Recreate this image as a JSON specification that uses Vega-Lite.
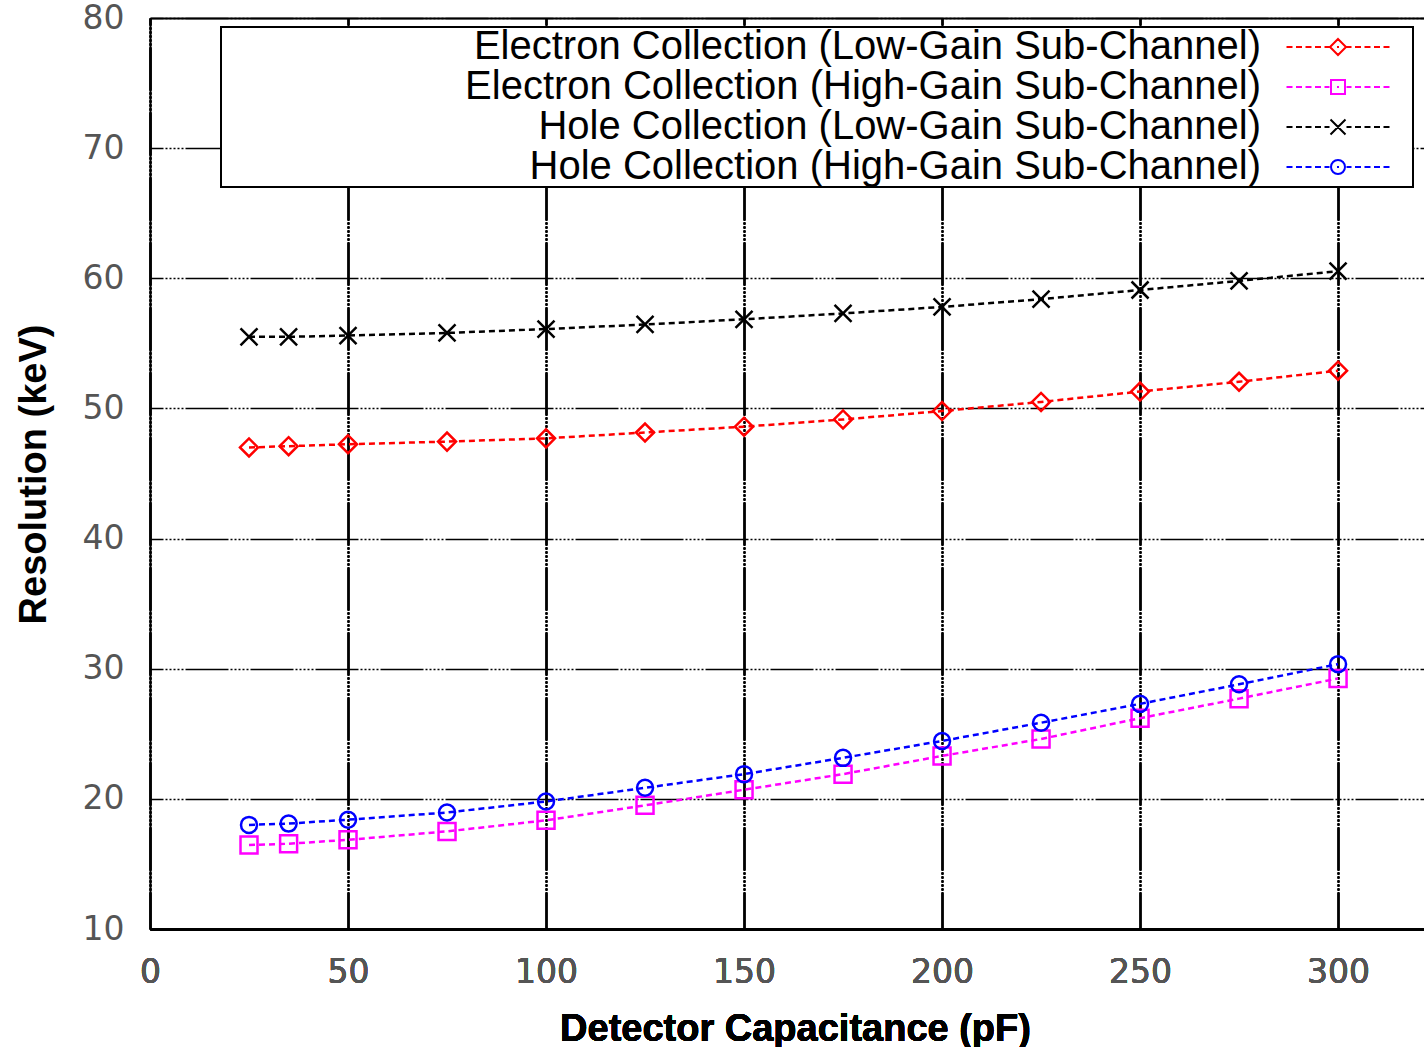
{
  "$schema": "https://vega.github.io/schema/vega-lite/v6.json",
  "width": 1274,
  "height": 911,
  "autosize": {"type": "none"},
  "padding": {"left": 150, "top": 18, "right": 0, "bottom": 118},
  "background": "white",
  "config": {"view": {"stroke": null}, "legend": {"strokeWidth": 2}},
  "data": {
    "values": [
      {"series": "Electron Collection (Low-Gain Sub-Channel)", "c": 25, "r": 47.0},
      {"series": "Electron Collection (Low-Gain Sub-Channel)", "c": 35, "r": 47.1},
      {"series": "Electron Collection (Low-Gain Sub-Channel)", "c": 50, "r": 47.25},
      {"series": "Electron Collection (Low-Gain Sub-Channel)", "c": 75, "r": 47.45},
      {"series": "Electron Collection (Low-Gain Sub-Channel)", "c": 100, "r": 47.7},
      {"series": "Electron Collection (Low-Gain Sub-Channel)", "c": 125, "r": 48.15},
      {"series": "Electron Collection (Low-Gain Sub-Channel)", "c": 150, "r": 48.6},
      {"series": "Electron Collection (Low-Gain Sub-Channel)", "c": 175, "r": 49.15},
      {"series": "Electron Collection (Low-Gain Sub-Channel)", "c": 200, "r": 49.8},
      {"series": "Electron Collection (Low-Gain Sub-Channel)", "c": 225, "r": 50.5},
      {"series": "Electron Collection (Low-Gain Sub-Channel)", "c": 250, "r": 51.3},
      {"series": "Electron Collection (Low-Gain Sub-Channel)", "c": 275, "r": 52.05},
      {"series": "Electron Collection (Low-Gain Sub-Channel)", "c": 300, "r": 52.9},
      {"series": "Electron Collection (High-Gain Sub-Channel)", "c": 25, "r": 16.45},
      {"series": "Electron Collection (High-Gain Sub-Channel)", "c": 35, "r": 16.55},
      {"series": "Electron Collection (High-Gain Sub-Channel)", "c": 50, "r": 16.85},
      {"series": "Electron Collection (High-Gain Sub-Channel)", "c": 75, "r": 17.5},
      {"series": "Electron Collection (High-Gain Sub-Channel)", "c": 100, "r": 18.35},
      {"series": "Electron Collection (High-Gain Sub-Channel)", "c": 125, "r": 19.5},
      {"series": "Electron Collection (High-Gain Sub-Channel)", "c": 150, "r": 20.7},
      {"series": "Electron Collection (High-Gain Sub-Channel)", "c": 175, "r": 21.9},
      {"series": "Electron Collection (High-Gain Sub-Channel)", "c": 200, "r": 23.3},
      {"series": "Electron Collection (High-Gain Sub-Channel)", "c": 225, "r": 24.6},
      {"series": "Electron Collection (High-Gain Sub-Channel)", "c": 250, "r": 26.2},
      {"series": "Electron Collection (High-Gain Sub-Channel)", "c": 275, "r": 27.7},
      {"series": "Electron Collection (High-Gain Sub-Channel)", "c": 300, "r": 29.25},
      {"series": "Hole Collection (Low-Gain Sub-Channel)", "c": 25, "r": 55.5},
      {"series": "Hole Collection (Low-Gain Sub-Channel)", "c": 35, "r": 55.5},
      {"series": "Hole Collection (Low-Gain Sub-Channel)", "c": 50, "r": 55.6},
      {"series": "Hole Collection (Low-Gain Sub-Channel)", "c": 75, "r": 55.8},
      {"series": "Hole Collection (Low-Gain Sub-Channel)", "c": 100, "r": 56.1},
      {"series": "Hole Collection (Low-Gain Sub-Channel)", "c": 125, "r": 56.45},
      {"series": "Hole Collection (Low-Gain Sub-Channel)", "c": 150, "r": 56.85},
      {"series": "Hole Collection (Low-Gain Sub-Channel)", "c": 175, "r": 57.3},
      {"series": "Hole Collection (Low-Gain Sub-Channel)", "c": 200, "r": 57.8},
      {"series": "Hole Collection (Low-Gain Sub-Channel)", "c": 225, "r": 58.4},
      {"series": "Hole Collection (Low-Gain Sub-Channel)", "c": 250, "r": 59.1},
      {"series": "Hole Collection (Low-Gain Sub-Channel)", "c": 275, "r": 59.8},
      {"series": "Hole Collection (Low-Gain Sub-Channel)", "c": 300, "r": 60.55},
      {"series": "Hole Collection (High-Gain Sub-Channel)", "c": 25, "r": 18.0},
      {"series": "Hole Collection (High-Gain Sub-Channel)", "c": 35, "r": 18.1},
      {"series": "Hole Collection (High-Gain Sub-Channel)", "c": 50, "r": 18.4},
      {"series": "Hole Collection (High-Gain Sub-Channel)", "c": 75, "r": 18.95},
      {"series": "Hole Collection (High-Gain Sub-Channel)", "c": 100, "r": 19.8},
      {"series": "Hole Collection (High-Gain Sub-Channel)", "c": 125, "r": 20.85},
      {"series": "Hole Collection (High-Gain Sub-Channel)", "c": 150, "r": 21.9},
      {"series": "Hole Collection (High-Gain Sub-Channel)", "c": 175, "r": 23.15},
      {"series": "Hole Collection (High-Gain Sub-Channel)", "c": 200, "r": 24.45},
      {"series": "Hole Collection (High-Gain Sub-Channel)", "c": 225, "r": 25.85},
      {"series": "Hole Collection (High-Gain Sub-Channel)", "c": 250, "r": 27.3},
      {"series": "Hole Collection (High-Gain Sub-Channel)", "c": 275, "r": 28.8},
      {"series": "Hole Collection (High-Gain Sub-Channel)", "c": 300, "r": 30.35}
    ]
  },
  "encoding": {
    "x": {
      "field": "c",
      "type": "quantitative",
      "scale": {"domain": [0, 321.7], "nice": false, "zero": false},
      "axis": {
        "orient": "bottom",
        "values": [0, 50, 100, 150, 200, 250, 300],
        "grid": true,
        "gridColor": "black",
        "gridWidth": 1.5,
        "gridOpacity": 1,
        "gridDash": [43, 2, 2, 2, 2, 2, 2, 2, 2, 2, 2, 2],
        "gridDashOffset": 36,
        "ticks": false,
        "domain": true,
        "domainColor": "black",
        "domainWidth": 2,
        "labelFont": "DejaVu Sans",
        "labelFontSize": 33,
        "labelColor": "#555555",
        "labelPadding": 27,
        "labelFlush": false,
        "labelOverlap": false,
        "labelBound": false,
        "title": "Detector Capacitance (pF)",
        "titleFont": "Liberation Sans",
        "titleFontSize": 38,
        "titleFontWeight": "bold",
        "titleColor": "black",
        "titleX": 645,
        "titleY": 111,
        "titleAlign": "center",
        "titleBaseline": "alphabetic"
      }
    },
    "y": {
      "field": "r",
      "type": "quantitative",
      "scale": {"domain": [10, 80], "nice": false, "zero": false},
      "axis": {
        "values": [10, 20, 30, 40, 50, 60, 70, 80],
        "grid": true,
        "gridColor": "black",
        "gridWidth": 1.5,
        "gridOpacity": 1,
        "gridDash": [43, 2, 2, 2, 2, 2, 2, 2, 2, 2, 2, 2],
        "gridDashOffset": 30,
        "ticks": false,
        "domain": true,
        "domainColor": "black",
        "domainWidth": 2,
        "labelFont": "DejaVu Sans",
        "labelFontSize": 33,
        "labelColor": "#555555",
        "labelPadding": 26,
        "labelFlush": false,
        "labelOverlap": false,
        "labelBound": false,
        "title": "Resolution (keV)",
        "titleFont": "Liberation Sans",
        "titleFontSize": 38,
        "titleFontWeight": "bold",
        "titleColor": "black",
        "titleX": -105,
        "titleY": 456,
        "titleAngle": -90,
        "titleAlign": "center",
        "titleBaseline": "alphabetic"
      }
    }
  },
  "layer": [
    {
      "transform": [{"filter": {"field": "series", "equal": "Electron Collection (Low-Gain Sub-Channel)"}}],
      "mark": {"type": "line", "strokeWidth": 2.5, "strokeDash": [6, 4], "color": "#ff0000"}
    },
    {
      "transform": [{"filter": {"field": "series", "equal": "Electron Collection (High-Gain Sub-Channel)"}}],
      "mark": {"type": "line", "strokeWidth": 2.5, "strokeDash": [6, 4], "color": "#ff00ff"}
    },
    {
      "transform": [{"filter": {"field": "series", "equal": "Hole Collection (Low-Gain Sub-Channel)"}}],
      "mark": {"type": "line", "strokeWidth": 2.5, "strokeDash": [6, 4], "color": "#000000"}
    },
    {
      "transform": [{"filter": {"field": "series", "equal": "Hole Collection (High-Gain Sub-Channel)"}}],
      "mark": {"type": "line", "strokeWidth": 2.5, "strokeDash": [6, 4], "color": "#0000ff"}
    },
    {
      "transform": [{"filter": {"field": "series", "equal": "Electron Collection (Low-Gain Sub-Channel)"}}],
      "mark": {"type": "point", "shape": "diamond", "size": 324, "strokeWidth": 2.5, "color": "#ff0000", "filled": false, "opacity": 1}
    },
    {
      "transform": [{"filter": {"field": "series", "equal": "Electron Collection (High-Gain Sub-Channel)"}}],
      "mark": {"type": "point", "shape": "square", "size": 289, "strokeWidth": 2.5, "color": "#ff00ff", "filled": false, "opacity": 1}
    },
    {
      "transform": [{"filter": {"field": "series", "equal": "Hole Collection (Low-Gain Sub-Channel)"}}],
      "mark": {"type": "point", "shape": "M-1,-1L1,1M-1,1L1,-1", "size": 289, "strokeWidth": 2.5, "color": "#000000", "filled": false, "opacity": 1}
    },
    {
      "transform": [{"filter": {"field": "series", "equal": "Hole Collection (High-Gain Sub-Channel)"}}],
      "mark": {"type": "point", "shape": "circle", "size": 256, "strokeWidth": 2.5, "color": "#0000ff", "filled": false, "opacity": 1}
    },
    {
      "mark": {"type": "point", "filled": false, "opacity": 0},
      "encoding": {
        "x": {
          "field": "c",
          "type": "quantitative",
          "axis": {"orient": "top", "labels": false, "ticks": false, "grid": false, "title": null, "domain": true, "domainColor": "black", "domainWidth": 2}
        },
        "color": {
          "field": "series",
          "type": "nominal",
          "scale": {
            "domain": ["Electron Collection (Low-Gain Sub-Channel)", "Electron Collection (High-Gain Sub-Channel)", "Hole Collection (Low-Gain Sub-Channel)", "Hole Collection (High-Gain Sub-Channel)"],
            "range": ["#ff0000", "#ff00ff", "#000000", "#0000ff"]
          },
          "legend": {
            "orient": "none", "legendX": 71, "legendY": 9,
            "title": " ", "titleOrient": "left", "titleFontSize": 1, "titlePadding": 1040,
            "padding": 0, "rowPadding": 0,
            "symbolSize": 400, "symbolStrokeWidth": 2, "symbolOffset": 57,
            "labelOffset": -97, "labelAlign": "right", "labelFont": "Liberation Sans", "labelFontSize": 40, "labelColor": "black", "labelLimit": 2000,
            "strokeColor": "black", "fillColor": "white"
          }
        },
        "shape": {
          "field": "series",
          "type": "nominal",
          "scale": {
            "domain": ["Electron Collection (Low-Gain Sub-Channel)", "Electron Collection (High-Gain Sub-Channel)", "Hole Collection (Low-Gain Sub-Channel)", "Hole Collection (High-Gain Sub-Channel)"],
            "range": [
              "M-5.15,0H-4.55M-4.2,0H-3.6M-3.25,0H-2.65M-2.3,0H-1.7M-1.35,0H-0.85M0.85,0H1.35M1.7,0H2.3M2.65,0H3.25M3.6,0H4.2M4.55,0H5.15M-0.1,0H0.1M0,-0.8L0.8,0L0,0.8L-0.8,0ZM7.1,0",
              "M-5.15,0H-4.55M-4.2,0H-3.6M-3.25,0H-2.65M-2.3,0H-1.7M-1.35,0H-0.85M0.85,0H1.35M1.7,0H2.3M2.65,0H3.25M3.6,0H4.2M4.55,0H5.15M-0.1,0H0.1M-0.7,-0.7H0.7V0.7H-0.7ZM7.1,0",
              "M-5.15,0H-4.55M-4.2,0H-3.6M-3.25,0H-2.65M-2.3,0H-1.7M-1.35,0H-0.85M0.85,0H1.35M1.7,0H2.3M2.65,0H3.25M3.6,0H4.2M4.55,0H5.15M-0.1,0H0.1M-0.75,-0.75L0.75,0.75M-0.75,0.75L0.75,-0.75M7.1,0",
              "M-5.15,0H-4.55M-4.2,0H-3.6M-3.25,0H-2.65M-2.3,0H-1.7M-1.35,0H-0.85M0.85,0H1.35M1.7,0H2.3M2.65,0H3.25M3.6,0H4.2M4.55,0H5.15M-0.1,0H0.1M0.7,0A0.7,0.7,0,1,1,-0.7,0A0.7,0.7,0,1,1,0.7,0M7.1,0"
            ]
          },
          "legend": {
            "orient": "none", "legendX": 71, "legendY": 9,
            "title": " ", "titleOrient": "left", "titleFontSize": 1, "titlePadding": 1040,
            "padding": 0, "rowPadding": 0,
            "symbolSize": 400, "symbolStrokeWidth": 2, "symbolOffset": 57,
            "labelOffset": -97, "labelAlign": "right", "labelFont": "Liberation Sans", "labelFontSize": 40, "labelColor": "black", "labelLimit": 2000,
            "strokeColor": "black", "fillColor": "white"
          }
        }
      }
    }
  ]
}
